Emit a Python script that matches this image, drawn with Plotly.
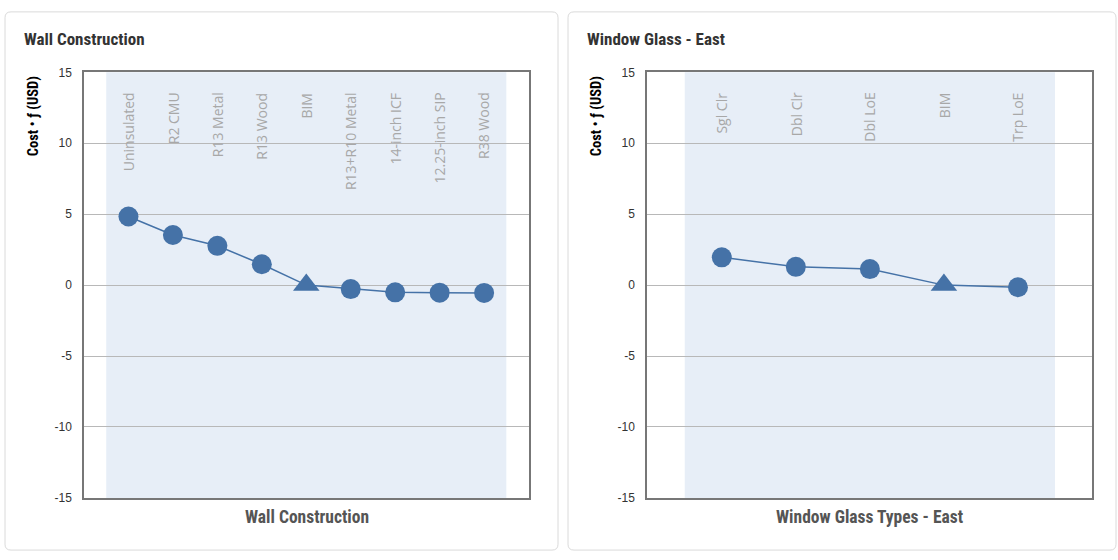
import plotly.graph_objects as go

# ---- data ----
wall_categories = ["Uninsulated", "R2 CMU", "R13 Metal", "R13 Wood", "BIM",
                   "R13+R10 Metal", "14-inch ICF", "12.25-inch SIP", "R38 Wood"]
wall_values = [4.84, 3.53, 2.77, 1.47, 0.0, -0.28, -0.51, -0.53, -0.55]
wall_symbols = ["circle", "circle", "circle", "circle", "triangle-up",
                "circle", "circle", "circle", "circle"]

glass_categories = ["Sgl Clr", "Dbl Clr", "Dbl LoE", "BIM", "Trp LoE"]
glass_values = [1.96, 1.29, 1.13, 0.0, -0.15]
glass_symbols = ["circle", "circle", "circle", "triangle-up", "circle"]

y_ticks = [-15, -10, -5, 0, 5, 10, 15]

panel_titles = ["Wall Construction", "Window Glass - East"]
x_titles = ["Wall Construction", "Window Glass Types - East"]
y_title = "Cost • ƒ (USD)"

# ---- styles ----
W, H = 1118, 560
BLUE = "#4572A7"
BAND = "#E7EEF7"
COND = "Liberation Sans Narrow, Arial Narrow, Roboto Condensed, Liberation Sans, sans-serif"
SANS = "Liberation Sans, Arial, sans-serif"
LABEL_FONT = "Open Sans, Noto Sans, sans-serif"

def px(x):
    return x / W

def py(y):
    return 1 - y / H

fig = go.Figure()

panels = [
    dict(cats=wall_categories, vals=wall_values, syms=wall_symbols,
         xaxis="x", yaxis="y", dom=(84, 529), rng=[-1, 9.01]),
    dict(cats=glass_categories, vals=glass_values, syms=glass_symbols,
         xaxis="x2", yaxis="y2", dom=(647, 1092), rng=[-1.01, 5.0]),
]

ytop, ybot = 67, 503.5
shapes = []
annotations = []

for i, p in enumerate(panels):
    idx = list(range(len(p["cats"])))
    fig.add_trace(go.Scatter(
        x=idx, y=p["vals"], mode="lines+markers",
        xaxis=p["xaxis"], yaxis=p["yaxis"], opacity=1,
        line=dict(color=BLUE, width=1.5),
        marker=dict(symbol=p["syms"], size=[23 if s == "triangle-up" else 20 for s in p["syms"]],
                    color=BLUE, opacity=1, line=dict(width=0)),
        showlegend=False, hoverinfo="x+y",
    ))
    axis_suffix = "" if i == 0 else "2"
    xa = dict(domain=[px(p["dom"][0]), px(p["dom"][1])], range=p["rng"],
              showgrid=False, zeroline=False, showticklabels=False,
              showline=True, mirror=True, linecolor="#777777", linewidth=1.5,
              anchor="y" + axis_suffix, fixedrange=True)
    ya = dict(domain=[py(ybot), py(ytop)], range=[-15, 15],
              tickvals=y_ticks, ticktext=[str(v) for v in y_ticks],
              showgrid=True, gridcolor="#B8B8B8", gridwidth=1,
              zeroline=False, showline=True, mirror=True,
              linecolor="#777777", linewidth=1.5,
              tickfont=dict(family=SANS, size=12, color="#333333"),
              ticks="", ticklabelstandoff=8,
              anchor="x" + axis_suffix, fixedrange=True)
    fig.update_layout(**{"xaxis" + axis_suffix: xa, "yaxis" + axis_suffix: ya})

    # shaded category band
    shapes.append(dict(type="rect", xref=p["xaxis"], yref=p["yaxis"] + " domain",
                       x0=-0.5, x1=len(p["cats"]) - 0.5, y0=0, y1=1,
                       fillcolor=BAND, line=dict(width=0), layer="below"))

    # category labels inside the plot
    for j, c in enumerate(p["cats"]):
        annotations.append(dict(x=j, y=15, xref=p["xaxis"], yref=p["yaxis"],
                                text=c, textangle=-90, showarrow=False,
                                xanchor="center", yanchor="top", yshift=-18,
                                font=dict(family=LABEL_FONT, size=14, color="#A8A8A8")))

    # rounded panel frame
    x0p, x1p = (5, 558) if i == 0 else (568, 1116)
    y0p, y1p = 5, 557
    r = 6
    path = (f"M {px(x0p + r)},{py(y0p)} L {px(x1p - r)},{py(y0p)} "
            f"Q {px(x1p)},{py(y0p)} {px(x1p)},{py(y0p + r)} "
            f"L {px(x1p)},{py(y1p - r)} Q {px(x1p)},{py(y1p)} {px(x1p - r)},{py(y1p)} "
            f"L {px(x0p + r)},{py(y1p)} Q {px(x0p)},{py(y1p)} {px(x0p)},{py(y1p - r)} "
            f"L {px(x0p)},{py(y0p + r)} Q {px(x0p)},{py(y0p)} {px(x0p + r)},{py(y0p)} Z")
    shapes.append(dict(type="path", xref="paper", yref="paper", path=path,
                       line=dict(color="#DADADA", width=1), layer="below"))

    # panel title
    annotations.append(dict(x=px(x0p + 17), y=py(33), xref="paper", yref="paper",
                            text=f"<b>{panel_titles[i]}</b>", showarrow=False,
                            xanchor="left", yanchor="middle",
                            font=dict(family=COND, size=17, color="#333333")))
    # y axis title
    annotations.append(dict(x=px(x0p + 28), y=py(69), xref="paper", yref="paper",
                            text=f"<b>{y_title}</b>", textangle=-90, showarrow=False,
                            xanchor="center", yanchor="top",
                            font=dict(family=COND, size=14.5, color="#000000")))
    # x axis title
    annotations.append(dict(x=px((p["dom"][0] + p["dom"][1]) / 2), y=py(523),
                            xref="paper", yref="paper",
                            text=f"<b>{x_titles[i]}</b>", showarrow=False,
                            xanchor="center", yanchor="middle",
                            font=dict(family=COND, size=17.5, color="#555555")))

fig.update_layout(
    width=W, height=H,
    margin=dict(l=0, r=0, t=0, b=0),
    paper_bgcolor="white", plot_bgcolor="white",
    shapes=shapes, annotations=annotations,
)

fig.write_html("out.html", config={"displayModeBar": False})
